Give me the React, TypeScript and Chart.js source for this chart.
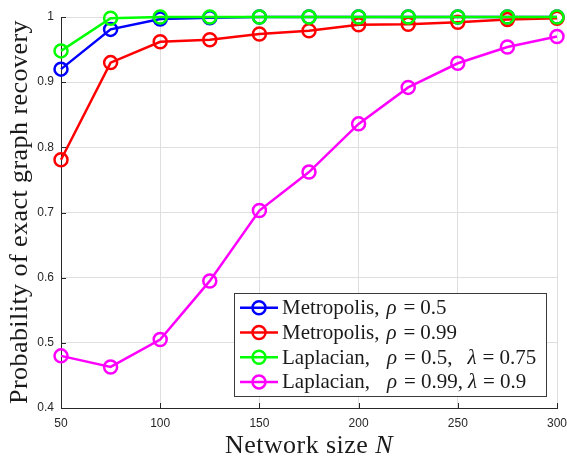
import React, { useEffect, useRef } from "react";
import { Chart, registerables } from "chart.js";

Chart.register(...registerables);

// ---- data ----
const networkSizes = [50, 75, 100, 125, 150, 175, 200, 225, 250, 275, 300];
const metropolis05 = [0.92, 0.981, 0.997, 0.999, 1, 1, 1, 1, 1, 1, 1];
const metropolis099 = [0.781, 0.93, 0.962, 0.965, 0.974, 0.979, 0.988, 0.989, 0.992, 0.996, 0.998];
const laplacian05 = [0.948, 0.998, 1.0, 1, 1, 1, 1, 1, 1, 1, 1];
const laplacian099 = [0.48, 0.463, 0.505, 0.595, 0.703, 0.762, 0.836, 0.892, 0.929, 0.954, 0.97];

const xTicks = [50, 100, 150, 200, 250, 300];
const yTicks = [0.4, 0.5, 0.6, 0.7, 0.8, 0.9, 1];

const seriesColors = ["#0000ff", "#ff0000", "#00ff00", "#ff00ff"];
const seriesValues = [metropolis05, metropolis099, laplacian05, laplacian099];
const seriesNames = [
  "Metropolis, ρ = 0.5",
  "Metropolis, ρ = 0.99",
  "Laplacian, ρ = 0.5, λ = 0.75",
  "Laplacian, ρ = 0.99, λ = 0.9",
];
// legend text runs (g = typographic gap before the run, like TeX spacing)
type Run = { t: string; it?: boolean; g?: number };
const legendRuns: Run[][] = [
  [{ t: "Metropolis," }, { t: "ρ", it: true, g: 7 }, { t: "=", g: 7 }, { t: "0.5", g: 5 }],
  [{ t: "Metropolis," }, { t: "ρ", it: true, g: 7 }, { t: "=", g: 7 }, { t: "0.99", g: 5 }],
  [
    { t: "Laplacian," },
    { t: "ρ", it: true, g: 17 },
    { t: "=", g: 7 },
    { t: "0.5,", g: 5 },
    { t: "λ", it: true, g: 15 },
    { t: "=", g: 6 },
    { t: "0.75", g: 5 },
  ],
  [
    { t: "Laplacian," },
    { t: "ρ", it: true, g: 17 },
    { t: "=", g: 7 },
    { t: "0.99,", g: 5 },
    { t: "λ", it: true, g: 5 },
    { t: "=", g: 6 },
    { t: "0.9", g: 5 },
  ],
];
const xTitleRuns: Run[] = [{ t: "Network size " }, { t: "N", it: true }];
const yTitle = "Probability of exact graph recovery";

const SERIF = '"Liberation Serif", "Times New Roman", serif';
const SANS = '"Liberation Sans", Arial, Helvetica, sans-serif';
const AXIS = "#262626";

function runsWidth(ctx: CanvasRenderingContext2D, runs: Run[], size: number) {
  let w = 0;
  for (const r of runs) {
    ctx.font = `${r.it ? "italic " : ""}${size}px ${SERIF}`;
    w += (r.g || 0) + ctx.measureText(r.t).width;
  }
  return w;
}

function drawRuns(ctx: CanvasRenderingContext2D, runs: Run[], x: number, y: number, size: number) {
  let cx = x;
  for (const r of runs) {
    ctx.font = `${r.it ? "italic " : ""}${size}px ${SERIF}`;
    cx += r.g || 0;
    ctx.fillText(r.t, cx, y);
    cx += ctx.measureText(r.t).width;
  }
}

const decorPlugin = {
  id: "decor",
  afterDraw(chart: any) {
    const ctx: any = chart.ctx;
    const { left, right, top, bottom } = chart.chartArea;
    const xs = chart.scales.x;
    const ys = chart.scales.y;
    ctx.save();

    // inward tick marks
    ctx.strokeStyle = AXIS;
    ctx.lineWidth = 1;
    ctx.beginPath();
    for (const v of xTicks) {
      const px = Math.round(xs.getPixelForValue(v)) + 0.5;
      ctx.moveTo(px, bottom);
      ctx.lineTo(px, bottom - 5);
    }
    for (const v of yTicks) {
      const py = Math.round(ys.getPixelForValue(v)) + 0.5;
      ctx.moveTo(left, py);
      ctx.lineTo(left + 5, py);
    }
    ctx.stroke();

    const titleSize = 26;
    ctx.fillStyle = "#1a1a1a";
    ctx.textBaseline = "alphabetic";
    ctx.textAlign = "left";

    // x title (stretched a little, like Computer Modern)
    const xTarget = 168;
    const nChars = xTitleRuns.reduce((a, r) => a + r.t.length, 0);
    ctx.letterSpacing = "0px";
    const xw0 = runsWidth(ctx, xTitleRuns, titleSize);
    const xls = Math.max(0, (xTarget - xw0) / nChars);
    ctx.letterSpacing = `${xls}px`;
    const xw = runsWidth(ctx, xTitleRuns, titleSize);
    drawRuns(ctx, xTitleRuns, (left + right) / 2 - xw / 2, 453, titleSize);

    // y title
    ctx.save();
    ctx.letterSpacing = "0px";
    ctx.font = `${titleSize}px ${SERIF}`;
    const yw0 = ctx.measureText(yTitle).width;
    const yTarget = 384;
    const yls = Math.max(0, (yTarget - yw0) / yTitle.length);
    ctx.letterSpacing = `${yls}px`;
    ctx.translate(27, 404);
    ctx.rotate(-Math.PI / 2);
    ctx.textAlign = "left";
    ctx.fillText(yTitle, 0, 0);
    ctx.restore();
    ctx.letterSpacing = "0px";

    // legend
    const bx = 234.5, by = 293.5, bw = 312, bh = 103;
    ctx.fillStyle = "#ffffff";
    ctx.fillRect(bx, by, bw, bh);
    ctx.strokeStyle = "#3a3a3a";
    ctx.lineWidth = 1;
    ctx.strokeRect(bx, by, bw, bh);
    const rowY = [307.7, 332.5, 357.2, 381.9];
    legendRuns.forEach((runs, i) => {
      const y = rowY[i];
      ctx.strokeStyle = seriesColors[i];
      ctx.lineWidth = 2.5;
      ctx.beginPath();
      ctx.moveTo(240, y);
      ctx.lineTo(278, y);
      ctx.stroke();
      ctx.beginPath();
      ctx.arc(259, y, 6.5, 0, Math.PI * 2);
      ctx.stroke();
      ctx.fillStyle = "#1a1a1a";
      ctx.textAlign = "left";
      ctx.textBaseline = "middle";
      drawRuns(ctx, runs, 282, y + 1, 21);
    });

    ctx.restore();
  },
};

export default function App() {
  const ref = useRef<HTMLCanvasElement | null>(null);

  useEffect(() => {
    if (!ref.current) return;
    const order = [4, 3, 2, 1];
    const chart = new Chart(ref.current, {
      type: "line",
      data: {
        datasets: seriesValues.map((vals, i) => ({
          label: seriesNames[i],
          data: networkSizes.map((n, j) => ({ x: n, y: vals[j] })),
          borderColor: seriesColors[i],
          backgroundColor: seriesColors[i],
          borderWidth: 2.5,
          pointRadius: 6.5,
          pointBorderWidth: 2.5,
          pointBackgroundColor: "rgba(0,0,0,0)",
          pointBorderColor: seriesColors[i],
          pointStyle: "circle",
          fill: false,
          tension: 0,
          clip: false as any,
          order: order[i],
        })),
      },
      options: {
        responsive: false,
        animation: false,
        devicePixelRatio: 1,
        layout: { padding: { left: 0, right: 10, top: 17, bottom: 0 } },
        plugins: { legend: { display: false }, tooltip: { enabled: false } },
        scales: {
          x: {
            type: "linear",
            min: 50,
            max: 300,
            afterBuildTicks: (s: any) => {
              s.ticks = xTicks.map((v) => ({ value: v }));
            },
            afterFit: (s: any) => {
              s.height = 50;
              s.paddingLeft = 0;
              s.paddingRight = 0;
            },
            ticks: {
              color: AXIS,
              font: { family: SANS, size: 12 },
              padding: 8,
              maxRotation: 0,
              autoSkip: false,
              callback: (v: any) => String(v),
            },
            grid: { color: "#dfdfdf", drawTicks: false, lineWidth: 1 },
            border: { color: AXIS, width: 1 },
          },
          y: {
            type: "linear",
            min: 0.4,
            max: 1,
            afterBuildTicks: (s: any) => {
              s.ticks = yTicks.map((v) => ({ value: v }));
            },
            afterFit: (s: any) => {
              s.width = 61;
              s.paddingTop = 0;
              s.paddingBottom = 0;
            },
            ticks: {
              color: AXIS,
              font: { family: SANS, size: 12 },
              padding: 7,
              autoSkip: false,
              callback: (v: any) => (Number(v) === 1 ? "1" : Number(v).toFixed(1)),
            },
            grid: { color: "#dfdfdf", drawTicks: false, lineWidth: 1 },
            border: { color: AXIS, width: 1 },
          },
        },
      },
      plugins: [decorPlugin],
    } as any);
    return () => chart.destroy();
  }, []);

  return (
    <div style={{ position: "absolute", left: 0, top: 0, width: 567, height: 458, background: "#fff" }}>
      <canvas ref={ref} width={567} height={458} style={{ display: "block", width: 567, height: 458 }} />
    </div>
  );
}
